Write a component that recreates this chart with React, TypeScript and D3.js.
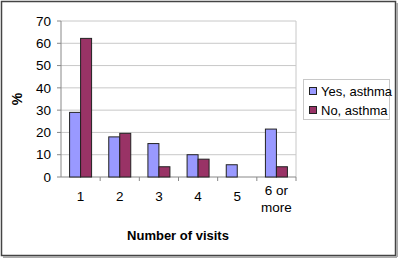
import React from "react";
import * as d3 from "d3";

const categories = ["1", "2", "3", "4", "5", "6 or more"];
const yesAsthma = [29, 18, 15, 10, 5.5, 21.5];
const noAsthma = [62.2, 19.6, 4.6, 8, 0, 4.6];
const seriesNames = ["Yes, asthma", "No, asthma"];
const yTicks = [0, 10, 20, 30, 40, 50, 60, 70];

const W = 398, H = 259;
const plot = { left: 61, top: 21, right: 296, bottom: 177 };
const colors = ["#9999FF", "#993366"];

export default function App() {
  const x = d3.scaleBand<string>().domain(categories).range([plot.left, plot.right]).paddingInner(0).paddingOuter(0);
  const y = d3.scaleLinear().domain([0, 70]).range([plot.bottom, plot.top]);
  const bw = 11;
  const series = [yesAsthma, noAsthma];
  const font = "Arial, 'Liberation Sans', sans-serif";
  return (
    <svg width={W} height={H} style={{ position: "absolute", left: 0, top: 0 }} fontFamily={font}>
      <rect x={0} y={0} width={W} height={H} fill="#fff" />
      <rect x={1.5} y={1.5} width={394} height={254} fill="none" stroke="#444" strokeWidth={1.5} />
      <line x1={3} y1={257} x2={397} y2={257} stroke="#aaa" strokeWidth={2} />
      <line x1={397} y1={3} x2={397} y2={257} stroke="#aaa" strokeWidth={2} />
      {yTicks.map((t) => (
        <g key={t}>
          {t > 0 && <line x1={plot.left} x2={plot.right} y1={y(t)} y2={y(t)} stroke="#c8c8c8" strokeWidth={1} />}
          <line x1={plot.left - 4} x2={plot.left} y1={y(t)} y2={y(t)} stroke="#888" />
          <text x={plot.left - 10} y={y(t)} dy="0.35em" textAnchor="end" fontSize={13.5} fill="#000">{t}</text>
        </g>
      ))}
      <line x1={plot.right} x2={plot.right} y1={plot.top} y2={plot.bottom} stroke="#c8c8c8" />
      <line x1={plot.left} x2={plot.left} y1={plot.top} y2={plot.bottom} stroke="#888" />
      <line x1={plot.left} x2={plot.right} y1={plot.bottom} y2={plot.bottom} stroke="#888" />
      {categories.map((c, i) => (
        <line key={"tk" + i} x1={(x(c) as number) + x.bandwidth()} x2={(x(c) as number) + x.bandwidth()} y1={plot.bottom} y2={plot.bottom + 4} stroke="#888" />
      ))}
      {series.map((s, si) =>
        s.map((v, i) => {
          if (v <= 0) return null;
          const cx = (x(categories[i]) as number) + x.bandwidth() / 2;
          const bx = cx - bw + si * bw;
          return (
            <rect key={si + "-" + i} x={bx} y={y(v)} width={bw} height={plot.bottom - y(v)} fill={colors[si]} stroke="#222" strokeWidth={1} />
          );
        })
      )}
      {categories.map((c, i) => {
        const cx = (x(c) as number) + x.bandwidth() / 2;
        const parts = c === "6 or more" ? ["6 or", "more"] : [c];
        return (
          <text key={"xl" + i} x={cx} y={parts.length > 1 ? 195 : 201} textAnchor="middle" fontSize={13.5} fill="#000">
            {parts.map((p, k) => (
              <tspan key={k} x={cx} dy={k === 0 ? 0 : 17}>{p}</tspan>
            ))}
          </text>
        );
      })}
      <text x={178} y={240} textAnchor="middle" fontSize={13} fontWeight="bold" fill="#000">Number of visits</text>
      <text transform={`translate(22,${(plot.top + plot.bottom) / 2}) rotate(-90)`} textAnchor="middle" fontSize={14} fontWeight="bold" fill="#000">%</text>
      <rect x={303.5} y={79.5} width={86} height={40} fill="#fff" stroke="#c8c8c8" />
      {seriesNames.map((n, i) => (
        <g key={n}>
          <rect x={309.5} y={87.5 + i * 19} width={7} height={7} fill={colors[i]} stroke="#222" />
          <text x={321} y={91 + i * 19} dy="0.35em" fontSize={13} fill="#000">{n}</text>
        </g>
      ))}
    </svg>
  );
}
